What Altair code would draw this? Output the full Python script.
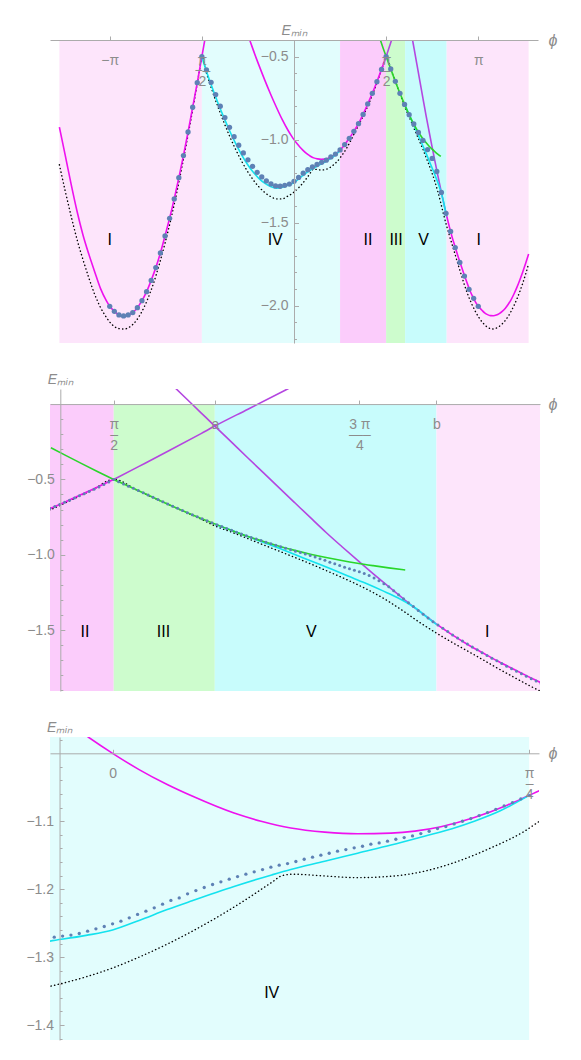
import altair as alt
import numpy as np
import pandas as pd

PI = float(np.pi)
A_PHI = 1.894
B_PHI = 2.603

FONT = "Liberation Sans"
GRAY_TXT = "#8c8c8c"
GRAY_LINE = "#ababab"
MAGENTA = "#ee11ee"
PURPLE = "#b446e0"
CYAN = "#14e2ee"
GREEN = "#2ad62a"
DOT = "#5e81b5"

# ---------------- regions ----------------
region_lo = [-4.0, -PI / 2, PI / 4, PI / 2, A_PHI, B_PHI]
region_hi = [-PI / 2, PI / 4, PI / 2, A_PHI, B_PHI, 4.0]
region_fill = ["#fde5fb", "#e2fdfd", "#fbccfb", "#cdfccd", "#c8fcfc", "#fde5fb"]

# ---------------- curves (phi, E) ----------------
ifun_left_phi = [-4.0, -3.9, -3.8, -3.7, -3.6, -3.5, -3.4, -3.3, -3.2, -3.1416, -3.063, -2.985, -2.906,
                 -2.827, -2.749, -2.670, -2.592, -2.513, -2.435, -2.356, -2.278, -2.199, -2.121, -2.042,
                 -1.963, -1.885, -1.806, -1.728, -1.649, -1.571, -1.52, -1.50]
ifun_left_E = [-0.925, -1.095, -1.268, -1.430, -1.571, -1.688, -1.794, -1.896, -1.970, -2.004, -2.034, -2.056,
               -2.062, -2.056, -2.042, -2.012, -1.970, -1.916, -1.848, -1.771, -1.683, -1.580, -1.474, -1.357,
               -1.229, -1.096, -0.954, -0.805, -0.657, -0.500, -0.398, -0.358]

ifun_rp_phi = [1.75, 1.80, 1.85, 1.894, 1.95, 2.00, 2.05, 2.10, 2.15, 2.20, 2.25, 2.30, 2.35, 2.40, 2.45,
               2.50, 2.55, 2.603]
ifun_rp_E = [0.142, 0.042, -0.058, -0.146, -0.258, -0.358, -0.457, -0.556, -0.655, -0.754, -0.852, -0.945,
             -1.036, -1.125, -1.212, -1.297, -1.378, -1.460]

ifun_rm_phi = [2.603, 2.65, 2.70, 2.75, 2.80, 2.85, 2.90, 2.95, 3.00, 3.05, 3.10, 3.1416, 3.2, 3.25, 3.3,
               3.35, 3.4, 3.45, 3.5, 3.55, 3.6, 3.65, 3.7, 3.75, 3.8, 3.85, 3.9, 3.95, 4.0]
ifun_rm_E = [-1.460, -1.527, -1.592, -1.650, -1.707, -1.760, -1.812, -1.862, -1.910, -1.948, -1.982, -2.004,
             -2.026, -2.043, -2.054, -2.060, -2.061, -2.057, -2.048, -2.035, -2.017, -1.993, -1.965, -1.930,
             -1.890, -1.845, -1.797, -1.744, -1.689]

iifun_m_phi = [-0.75, -0.7, -0.6, -0.5, -0.4, -0.3, -0.2, -0.1, -0.046, 0.0, 0.05, 0.103, 0.15, 0.229, 0.28,
               0.336, 0.40, 0.462, 0.525, 0.57, 0.619, 0.682, 0.745, 0.785, 0.805, 0.864, 0.942, 1.021, 1.100,
               1.178, 1.257, 1.335, 1.414, 1.492, 1.5708]
iifun_m_E = [-0.405, -0.455, -0.550, -0.640, -0.725, -0.805, -0.880, -0.945, -0.976, -1.000, -1.024, -1.046,
             -1.063, -1.088, -1.100, -1.110, -1.116, -1.1185, -1.1175, -1.1145, -1.108, -1.0945, -1.076,
             -1.062, -1.055, -1.030, -0.992, -0.950, -0.904, -0.848, -0.785, -0.721, -0.651, -0.577, -0.500]

iifun_p_phi = [1.5708, 1.65, 1.75, 1.85, 1.894, 2.0, 2.134, 2.2]
iifun_p_E = [-0.500, -0.415, -0.307, -0.196, -0.146, -0.034, 0.108, 0.178]

green_phi = [1.37, 1.42, 1.47, 1.52, 1.5708, 1.65, 1.73, 1.81, 1.894, 1.95, 2.0, 2.05, 2.1, 2.15, 2.2, 2.25,
             2.3, 2.35, 2.4, 2.45, 2.503]
green_E = [-0.290, -0.344, -0.397, -0.449, -0.500, -0.575, -0.651, -0.724, -0.795, -0.840, -0.878, -0.912,
           -0.943, -0.971, -0.996, -1.018, -1.038, -1.056, -1.072, -1.087, -1.101]

cyan4_phi = [-1.5708, -1.50, -1.45, -1.40, -1.30, -1.20, -1.10, -1.00, -0.90, -0.80, -0.70, -0.60, -0.50,
             -0.40, -0.30, -0.20, -0.119, -0.05, 0.0, 0.05, 0.103, 0.15, 0.229, 0.30, 0.336, 0.40, 0.462,
             0.525, 0.588, 0.64, 0.682, 0.73, 0.7854]
cyan4_E = [-0.500, -0.580, -0.632, -0.682, -0.776, -0.863, -0.945, -1.020, -1.087, -1.145, -1.194, -1.233,
           -1.262, -1.282, -1.292, -1.287, -1.2765, -1.268, -1.260, -1.246, -1.230, -1.217, -1.196, -1.179,
           -1.171, -1.159, -1.147, -1.135, -1.122, -1.111, -1.100, -1.085, -1.062]

cyan5_phi = [1.894, 1.95, 2.0, 2.05, 2.1, 2.15, 2.2, 2.2666, 2.32, 2.373, 2.43, 2.479, 2.54, 2.575, 2.603]
cyan5_E = [-0.797, -0.839, -0.879, -0.918, -0.957, -0.998, -1.040, -1.095, -1.141, -1.186, -1.238, -1.285,
           -1.360, -1.418, -1.462]

dotted_phi = [-4.0, -3.9, -3.8, -3.7, -3.6, -3.5, -3.4, -3.3, -3.2, -3.1, -3.0, -2.9, -2.8, -2.7, -2.6, -2.5,
              -2.4, -2.3, -2.2, -2.1, -2.0, -1.9, -1.8, -1.7, -1.6, -1.5708, -1.50, -1.40, -1.30, -1.20,
              -1.10, -1.00, -0.90, -0.80, -0.70, -0.60, -0.50, -0.40, -0.30, -0.20, -0.118, -0.05, 0.0, 0.05,
              0.10, 0.15, 0.20, 0.25, 0.30, 0.32, 0.34, 0.40, 0.46, 0.525, 0.588, 0.651, 0.714, 0.776, 0.805,
              0.85, 0.90, 0.95, 1.0, 1.1, 1.2, 1.3, 1.37, 1.45, 1.5, 1.5708, 1.65, 1.70, 1.75, 1.80, 1.85,
              1.894, 1.95, 2.0, 2.05, 2.1, 2.15, 2.2, 2.2666, 2.30, 2.35, 2.40, 2.45, 2.50, 2.55, 2.603, 2.65,
              2.70, 2.75, 2.80, 2.85, 2.90, 2.95, 3.0, 3.1, 3.2, 3.3, 3.38, 3.5, 3.6, 3.7, 3.8, 3.9, 4.0]
dotted_E = [-1.151, -1.31, -1.46, -1.60, -1.72, -1.83, -1.93, -2.01, -2.07, -2.115, -2.137, -2.141, -2.128,
            -2.095, -2.040, -1.965, -1.870, -1.755, -1.625, -1.480, -1.320, -1.145, -0.960, -0.765, -0.560,
            -0.500, -0.590, -0.700, -0.800, -0.892, -0.977, -1.055, -1.125, -1.187, -1.240, -1.284, -1.318,
            -1.343, -1.357, -1.357, -1.343, -1.329, -1.316, -1.300, -1.282, -1.262, -1.240, -1.216, -1.190,
            -1.180, -1.178, -1.1805, -1.183, -1.181, -1.1735, -1.159, -1.139, -1.115, -1.100, -1.078, -1.050,
            -1.018, -0.983, -0.913, -0.842, -0.763, -0.700, -0.622, -0.572, -0.500, -0.576, -0.624, -0.670,
            -0.717, -0.763, -0.808, -0.852, -0.893, -0.935, -0.976, -1.018, -1.060, -1.120, -1.150, -1.198,
            -1.250, -1.310, -1.378, -1.450, -1.520, -1.578, -1.636, -1.695, -1.755, -1.812, -1.868, -1.920,
            -1.965, -2.040, -2.095, -2.130, -2.141, -2.125, -2.090, -2.035, -1.960, -1.865, -1.749]

# ---------------- numerical points ----------------
# panel 1: phi = -pi + k*pi/40, k = 0..80
dots1_E = [-2.004, -2.034, -2.056, -2.062, -2.056, -2.042, -2.012, -1.970, -1.916, -1.848,
           -1.771, -1.683, -1.580, -1.474, -1.357, -1.229, -1.096, -0.954, -0.805, -0.657,
           -0.500, -0.580, -0.655, -0.729, -0.799, -0.867, -0.926, -0.982, -1.034, -1.080,
           -1.122, -1.161, -1.197, -1.225, -1.249, -1.267, -1.279, -1.281, -1.275, -1.2676,
           -1.251, -1.228, -1.202, -1.181, -1.165, -1.150, -1.137, -1.124, -1.104, -1.087,
           -1.062, -1.030, -0.992, -0.950, -0.904, -0.848, -0.785, -0.721, -0.651, -0.577,
           -0.500, -0.574, -0.649, -0.721, -0.788, -0.850, -0.906, -0.957, -1.005, -1.060,
           -1.113, -1.192, -1.318, -1.444, -1.553, -1.650, -1.740, -1.822, -1.902, -1.956, -2.004]
# panel 2: phi = pi/2 + j*pi/200, j = -13..87
dots2_E = [-0.693, -0.680, -0.666, -0.652, -0.638, -0.624, -0.609, -0.595, -0.580, -0.565, -0.550, -0.534,
           -0.517, -0.500,
           -0.515, -0.530, -0.545, -0.559, -0.574, -0.589, -0.604, -0.619, -0.634, -0.649, -0.663, -0.678,
           -0.692, -0.706, -0.721, -0.735, -0.748, -0.761, -0.774, -0.788,
           -0.800, -0.813, -0.825, -0.838, -0.850, -0.862, -0.874, -0.885, -0.896, -0.906, -0.917, -0.927,
           -0.937, -0.947, -0.957, -0.966, -0.976, -0.985, -0.995, -1.005,
           -1.015, -1.026, -1.037, -1.049, -1.060, -1.071, -1.082, -1.093, -1.103, -1.113, -1.125, -1.138,
           -1.154, -1.172, -1.192, -1.213, -1.239, -1.265, -1.292, -1.318,
           -1.344, -1.370, -1.395, -1.420, -1.444, -1.466, -1.488, -1.510, -1.532, -1.553, -1.573, -1.592,
           -1.612, -1.631, -1.650, -1.668, -1.686, -1.704, -1.722, -1.740, -1.757, -1.773, -1.790, -1.806,
           -1.822, -1.838, -1.854]
# panel 3: phi = m*pi/200, m = -7..50
dots3_E = [-1.2706, -1.2691, -1.2676, -1.2652, -1.2618, -1.2584, -1.2549, -1.2510, -1.2471, -1.2422,
           -1.2372, -1.2324, -1.2275, -1.2221, -1.2166, -1.2128, -1.2069, -1.2020, -1.1975, -1.1931,
           -1.1892, -1.1853, -1.1814, -1.1779, -1.1745, -1.1711, -1.1676, -1.1647, -1.1623,
           -1.1593, -1.1559, -1.1529, -1.1500, -1.1471, -1.1441, -1.1417, -1.1392, -1.1368, -1.1338,
           -1.1319, -1.1294, -1.1265, -1.1240, -1.1216, -1.1181, -1.1147, -1.1108, -1.1078, -1.1039,
           -1.1000, -1.0961, -1.0916, -1.0872, -1.0824, -1.0775, -1.0725, -1.0672, -1.0622]

dots1_phi = [-PI + k * PI / 40 for k in range(len(dots1_E))]
dots2_phi = [PI / 2 + (j - 13) * PI / 200 for j in range(len(dots2_E))]
dots3_phi = [(m - 7) * PI / 200 for m in range(len(dots3_E))]

# ---------------- tables ----------------
rows = []
for name, col, ph, ee in [
    ("ifun_l", MAGENTA, ifun_left_phi, ifun_left_E),
    ("ifun_rp", PURPLE, ifun_rp_phi, ifun_rp_E),
    ("ifun_rm", MAGENTA, ifun_rm_phi, ifun_rm_E),
    ("iifun_m", MAGENTA, iifun_m_phi, iifun_m_E),
    ("iifun_p", PURPLE, iifun_p_phi, iifun_p_E),
    ("cyan4", CYAN, cyan4_phi, cyan4_E),
    ("cyan5", CYAN, cyan5_phi, cyan5_E),
    ("green", GREEN, green_phi, green_E),
]:
    for p, e in zip(ph, ee):
        rows.append({"phi": p, "E": e, "seg": name, "col": col})
lines_df = pd.DataFrame(rows)
dotted_df = pd.DataFrame({"phi": dotted_phi, "E": dotted_E})

BAR = "\u2013"        # fraction bar
BAR_WIDE = "\u2014"   # wider fraction bar
NB = "\u00a0"
PI_S = "\u03c0"
MINUS = "\u2212"

panels = [
    dict(xdom=[-4.16, 4.16], ydom=[-2.225, -0.4], w=488, h=303, xaxis_E=-0.4, yaxis_phi=0.0,
         shade=(-0.4, -2.225), regions=[0, 1, 2, 3, 4, 5], xticks=[-PI, -PI / 2, PI / 2, PI],
         xlab=(f"datum.value < -3 ? '{MINUS}{PI_S}' : datum.value < -1 ? "
               f"['{NB}{NB}{NB}{PI_S}', '{MINUS}{BAR}', '{NB}{NB}{NB}2'] : datum.value < 2 ? "
               f"['{PI_S}', '{BAR}', '2'] : '{PI_S}'"),
         ymaj=[-0.5, -1.0, -1.5, -2.0],
         ymin=[-0.6, -0.7, -0.8, -0.9, -1.1, -1.2, -1.3, -1.4, -1.6, -1.7, -1.8, -1.9, -2.1, -2.2],
         dots=(dots1_phi, dots1_E), dsize=28,
         labels=(["I", "IV", "II", "III", "V", "I"], [-3.142, -0.32, 1.26, 1.74, 2.21, 3.15], [-1.602] * 6)),
    dict(xdom=[1.367, 2.934], ydom=[-1.904, 0.1], w=490, h=302, xaxis_E=0.0, yaxis_phi=1.4,
         shade=(0.0, -1.904), regions=[2, 3, 4, 5], xticks=[PI / 2, A_PHI, 3 * PI / 4, B_PHI],
         xlab=(f"datum.value < 1.7 ? ['{PI_S}', '{BAR}', '2'] : datum.value < 2 ? 'a' : "
               f"datum.value < 2.5 ? ['3 {PI_S}', '{BAR_WIDE}{BAR}', '4'] : 'b'"),
         ymaj=[-0.5, -1.0, -1.5],
         ymin=[-0.1, -0.2, -0.3, -0.4, -0.6, -0.7, -0.8, -0.9, -1.1, -1.2, -1.3, -1.4, -1.6, -1.7, -1.8, -1.9],
         dots=(dots2_phi, dots2_E), dsize=9,
         labels=(["II", "III", "V", "I"], [1.479, 1.730, 2.203, 2.765], [-1.513] * 4)),
    dict(xdom=[-0.118, 0.804], ydom=[-1.422, -0.976], w=489, h=303, xaxis_E=-1.0, yaxis_phi=-0.1,
         shade=(-0.976, -1.422), regions=[1], xticks=[0.0, PI / 4],
         xlab=f"datum.value < 0.1 ? '0' : ['{PI_S}', '{BAR}', '4']",
         ymaj=[-1.1, -1.2, -1.3, -1.4],
         ymin=[-0.98, -1.02, -1.04, -1.06, -1.08, -1.12, -1.14, -1.16, -1.18, -1.22, -1.24, -1.26, -1.28,
               -1.32, -1.34, -1.36, -1.38, -1.42],
         dots=(dots3_phi, dots3_E), dsize=11,
         labels=(["IV"], [0.300], [-1.3525])),
]


def make_panel(p):
    W, H = p["w"], p["h"]
    xd, yd = p["xdom"], p["ydom"]
    xs = alt.Scale(domain=xd, nice=False, zero=False)
    ys = alt.Scale(domain=yd, nice=False, zero=False)
    x_off = -(yd[1] - p["xaxis_E"]) / (yd[1] - yd[0]) * H
    y_off = (p["yaxis_phi"] - xd[1]) / (xd[1] - xd[0]) * W

    xaxis = alt.Axis(orient="top", offset=x_off, values=p["xticks"], labelExpr=p["xlab"], grid=False,
                     zindex=2, tickSize=4, tickColor=GRAY_LINE, domainColor=GRAY_LINE, domainWidth=1,
                     labelBaseline="middle", labelAlign="center", labelPadding=-24, labelLineHeight=10.5,
                     labelFont=FONT, labelFontSize=14, labelColor=GRAY_TXT, labelFlush=False,
                     labelOverlap=False, title="\u03d5", titleX=498, titleY=0, titleAlign="left",
                     titleBaseline="middle", titleAngle=0, titleFont=FONT, titleFontSize=16,
                     titleFontStyle="italic", titleFontWeight="normal", titleColor=GRAY_TXT)
    yaxis = alt.Axis(orient="right", offset=y_off, values=p["ymaj"], format=".1f", grid=False, zindex=2,
                     tickSize=4.5, tickColor=GRAY_LINE, domainColor=GRAY_LINE, domainWidth=1,
                     labelAlign="right", labelBaseline="middle", labelPadding=-10.5, labelFont=FONT,
                     labelFontSize=14, labelColor=GRAY_TXT, labelFlush=False, labelOverlap=False,
                     title="E\u2098\u1d62\u2099", titleX=0, titleY=-6, titleAngle=0, titleAlign="center",
                     titleBaseline="alphabetic", titleFont=FONT, titleFontSize=14, titleFontStyle="italic",
                     titleFontWeight="normal", titleColor=GRAY_TXT)
    yminor = alt.Axis(orient="right", offset=y_off, values=p["ymin"], labels=False, domain=False,
                      grid=False, zindex=2, tickSize=2.5, tickColor=GRAY_LINE, title="")

    X = alt.X("phi:Q", scale=xs, axis=xaxis)
    Y = alt.Y("E:Q", scale=ys, axis=yaxis)

    idx = p["regions"]
    rect_df = pd.DataFrame({"phi": [region_lo[i] for i in idx], "phi2": [region_hi[i] for i in idx],
                            "E": [p["shade"][0]] * len(idx), "E2": [p["shade"][1]] * len(idx),
                            "fill": [region_fill[i] for i in idx]})
    rects = alt.Chart(rect_df).mark_rect(clip=True).encode(
        x=X, x2="phi2:Q", y=Y, y2="E2:Q", color=alt.Color("fill:N", scale=None))

    dotted = alt.Chart(dotted_df).mark_line(clip=True, color="black", strokeWidth=1.4, strokeCap="round",
                                            strokeDash=[0.3, 3.4], interpolate="monotone").encode(
        x=X, y=Y, order="phi:Q")

    curves = alt.Chart(lines_df).mark_line(clip=True, strokeWidth=1.6, interpolate="monotone").encode(
        x=X, y=Y, detail="seg:N", color=alt.Color("col:N", scale=None), order="phi:Q")

    dphi, dE = p["dots"]
    dots_df = pd.DataFrame({"phi": dphi, "E": dE})
    dots = alt.Chart(dots_df).mark_circle(clip=True, size=p["dsize"], color=DOT, opacity=1).encode(x=X, y=Y)

    names, lx, ly = p["labels"]
    lab_df = pd.DataFrame({"phi": lx, "E": ly, "name": names})
    labels = alt.Chart(lab_df).mark_text(font=FONT, fontSize=16, color="black").encode(
        x=X, y=Y, text="name:N")

    main = alt.layer(rects, dotted, curves, dots, labels)
    minor = alt.Chart(dots_df).mark_point(opacity=0).encode(y=alt.Y("E:Q", scale=ys, axis=yminor))
    return alt.layer(main, minor).resolve_axis(y="independent").properties(width=W, height=H)


chart = alt.vconcat(*[make_panel(p) for p in panels], spacing=46, bounds="flush").properties(
    padding={"left": 17, "top": 15, "right": 5, "bottom": 5}
).configure_view(stroke=None)

chart.save("out.html", embed_options={"renderer": "svg", "actions": False})
